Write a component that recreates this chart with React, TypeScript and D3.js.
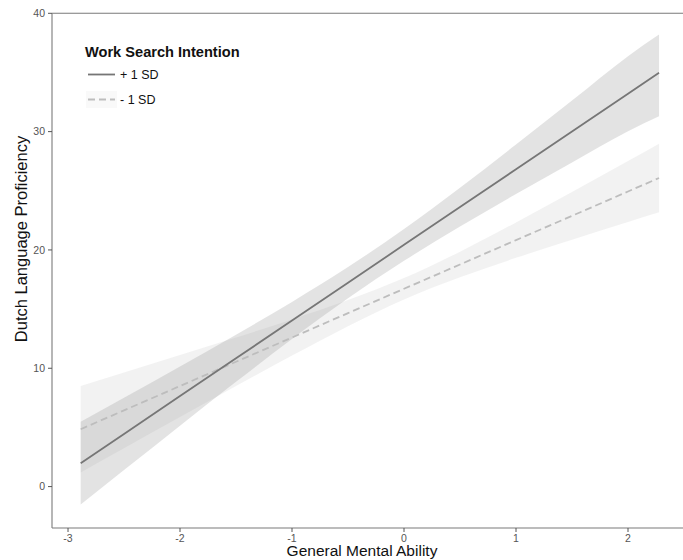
import React from 'react';
import * as d3 from 'd3';

// values
const xGrid = [-2.887, -2.5, -2, -1.5, -1, -0.5, 0, 0.5, 1, 1.5, 2, 2.277];

const plusFit = [1.98, 4.45, 7.65, 10.84, 14.04, 17.23, 20.43, 23.62, 26.82, 30.01, 33.21, 34.98];
const plusLower = [-1.52, 1.4, 5.15, 8.85, 12.47, 15.91, 19.08, 21.98, 24.73, 27.4, 30.04, 31.3];
const plusUpper = [5.48, 7.5, 10.15, 12.83, 15.61, 18.55, 21.78, 25.26, 28.91, 32.62, 36.38, 38.2];

const minusFit = [4.85, 6.44, 8.5, 10.55, 12.6, 14.66, 16.72, 18.77, 20.83, 22.88, 24.94, 26.08];
const minusLower = [1.2, 3.24, 5.88, 8.5, 11.07, 13.56, 15.82, 17.69, 19.33, 20.86, 22.36, 23.18];
const minusUpper = [8.5, 9.64, 11.12, 12.6, 14.13, 15.76, 17.62, 19.85, 22.33, 24.9, 27.52, 28.98];

const xTicks = [-3, -2, -1, 0, 1, 2];
const yTicks = [0, 10, 20, 30, 40];

const W = 683;
const H = 560;
const panel = { left: 52, right: 683, top: 13.3, bottom: 528 };

const font = '"Liberation Sans", Arial, sans-serif';

interface Pt {
  x: number;
  lo: number;
  fit: number;
  hi: number;
}

const toPoints = (fit: number[], lo: number[], hi: number[]): Pt[] =>
  xGrid.map((x, i) => ({ x, fit: fit[i], lo: lo[i], hi: hi[i] }));

const App: React.FC = () => {
  const x = d3.scaleLinear().domain([-3.143, 2.491]).range([panel.left, panel.right]);
  const y = d3.scaleLinear().domain([-3.5, 40]).range([panel.bottom, panel.top]);

  const area = d3
    .area<Pt>()
    .x((d) => x(d.x))
    .y0((d) => y(d.lo))
    .y1((d) => y(d.hi))
    .curve(d3.curveMonotoneX);

  const line = d3
    .line<Pt>()
    .x((d) => x(d.x))
    .y((d) => y(d.fit));

  const plus = toPoints(plusFit, plusLower, plusUpper);
  const minus = toPoints(minusFit, minusLower, minusUpper);

  return (
    <svg
      width={W}
      height={H}
      style={{ position: 'absolute', left: 0, top: 0, background: '#fff' }}
      fontFamily={font}
    >
      {/* confidence bands */}
      <path d={area(minus) || ''} fill="#999" fillOpacity={0.13} />
      <path d={area(plus) || ''} fill="#999" fillOpacity={0.27} />

      {/* fitted lines */}
      <path d={line(minus) || ''} fill="none" stroke="#bdbdbd" strokeWidth={1.8} strokeDasharray="7,4" />
      <path d={line(plus) || ''} fill="none" stroke="#767676" strokeWidth={1.8} />

      {/* axes */}
      <g stroke="#7a7a7a" strokeWidth={1.1}>
        <line x1={panel.left} x2={panel.left} y1={panel.top} y2={panel.bottom} />
        <line x1={panel.left} x2={panel.right} y1={panel.bottom} y2={panel.bottom} />
        <line x1={panel.left} x2={panel.right} y1={panel.top} y2={panel.top} />
      </g>

      {yTicks.map((t) => (
        <g key={'y' + t} transform={`translate(${panel.left},${y(t)})`}>
          <line x1={-4} x2={0} stroke="#555" strokeWidth={1} />
          <text x={-7} dy="0.35em" textAnchor="end" fontSize={10.5} fill="#555">
            {t}
          </text>
        </g>
      ))}

      {xTicks.map((t) => (
        <g key={'x' + t} transform={`translate(${x(t)},${panel.bottom})`}>
          <line y1={0} y2={4} stroke="#555" strokeWidth={1} />
          <text y={13.5} textAnchor="middle" fontSize={10.5} fill="#555">
            {t}
          </text>
        </g>
      ))}

      {/* axis titles */}
      <text x={362} y={556} textAnchor="middle" fontSize={15.5} fill="#111">
        General Mental Ability
      </text>
      <text
        transform="translate(27,239) rotate(-90)"
        textAnchor="middle"
        fontSize={16.5}
        fill="#111"
      >
        Dutch Language Proficiency
      </text>

      {/* legend */}
      <g>
        <text x={85} y={57} fontSize={14.6} fontWeight="bold" fill="#111">
          Work Search Intention
        </text>
        <line x1={88} x2={115} y1={74.5} y2={74.5} stroke="#767676" strokeWidth={1.8} />
        <text x={120} y={79} fontSize={12.5} fill="#111">
          + 1 SD
        </text>
        <rect x={86} y={91} width={31} height={17} fill="#999" fillOpacity={0.06} />
        <line x1={88} x2={115} y1={99.5} y2={99.5} stroke="#bdbdbd" strokeWidth={1.8} strokeDasharray="7,4" />
        <text x={120} y={104} fontSize={12.5} fill="#111">
          - 1 SD
        </text>
      </g>
    </svg>
  );
};

export default App;
